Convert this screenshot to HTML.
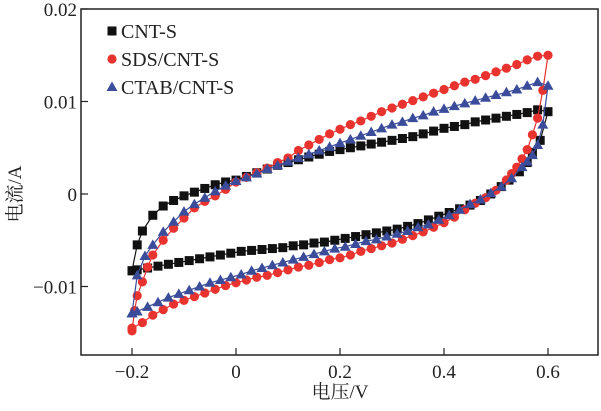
<!DOCTYPE html>
<html><head><meta charset="utf-8"><style>
body{margin:0;background:#fff}
svg{display:block}
</style></head><body>
<svg id="c" width="601" height="411"></svg>
<script>
const xTicks=[-0.2,0,0.2,0.4,0.6];
const xTickLabels=["\u22120.2","0","0.2","0.4","0.6"];
const yTicks=[0.02,0.01,0,-0.01];
const yTickLabels=["0.02","0.01","0","\u22120.01"];
const seriesNames=["CNT-S","SDS/CNT-S","CTAB/CNT-S"];
const cntV=[-0.2,-0.19,-0.18,-0.16,-0.14,-0.12,-0.1,-0.08,-0.06,-0.04,-0.02,0,0.02,0.04,0.06,0.08,0.1,0.12,0.14,0.16,0.18,0.2,0.22,0.24,0.26,0.28,0.3,0.32,0.34,0.36,0.38,0.4,0.42,0.44,0.46,0.48,0.5,0.52,0.54,0.56,0.58,0.6,
 0.585,0.57,0.56,0.545,0.525,0.51,0.49,0.47,0.45,0.43,0.41,0.39,0.37,0.35,0.33,0.31,0.29,0.27,0.25,0.23,0.21,0.19,0.17,0.15,0.13,0.11,0.09,0.07,0.05,0.03,0.01,-0.01,-0.03,-0.05,-0.07,-0.09,-0.11,-0.13,-0.15,-0.17,-0.19,-0.2];
const cntI=[-0.0083,-0.0055,-0.004,-0.0023,-0.0013,-0.0007,-0.0002,0.0002,0.0006,0.001,0.0013,0.0015,0.0019,0.0023,0.0027,0.0031,0.0034,0.0037,0.004,0.0043,0.0046,0.0048,0.005,0.0052,0.0054,0.0056,0.0058,0.006,0.0062,0.0065,0.0068,0.0071,0.0073,0.0075,0.0078,0.008,0.0082,0.0084,0.0086,0.0088,0.0091,0.0089,
 0.0058,0.0045,0.0034,0.0024,0.0015,0.0008,0,-0.0007,-0.0012,-0.0016,-0.002,-0.0024,-0.0028,-0.0032,-0.0035,-0.0038,-0.004,-0.0042,-0.0044,-0.0046,-0.0048,-0.005,-0.0052,-0.0053,-0.0055,-0.0056,-0.0058,-0.0059,-0.006,-0.0061,-0.0062,-0.0064,-0.0066,-0.0068,-0.007,-0.0072,-0.0074,-0.0076,-0.0078,-0.008,-0.0082,-0.0083];
const sdsV=[-0.2,-0.195,-0.19,-0.18,-0.17,-0.16,-0.14,-0.12,-0.1,-0.08,-0.06,-0.04,-0.02,0,0.02,0.04,0.06,0.08,0.1,0.12,0.14,0.16,0.18,0.2,0.22,0.24,0.26,0.28,0.3,0.32,0.34,0.36,0.38,0.4,0.42,0.44,0.46,0.48,0.5,0.52,0.54,0.56,0.58,0.6,
 0.59,0.58,0.57,0.56,0.55,0.54,0.53,0.52,0.5,0.48,0.46,0.44,0.42,0.4,0.38,0.36,0.34,0.32,0.3,0.28,0.26,0.24,0.22,0.2,0.18,0.16,0.14,0.12,0.1,0.08,0.06,0.04,0.02,0,-0.02,-0.04,-0.06,-0.08,-0.1,-0.12,-0.14,-0.16,-0.18,-0.2];
const sdsI=[-0.0148,-0.0126,-0.011,-0.0095,-0.0079,-0.0066,-0.005,-0.0037,-0.0026,-0.0015,-0.0008,-0.0002,0.0005,0.0013,0.0018,0.0023,0.0028,0.0034,0.0039,0.0047,0.0053,0.0059,0.0065,0.007,0.0075,0.0079,0.0084,0.0089,0.0093,0.0097,0.0101,0.0105,0.0109,0.0113,0.0117,0.0121,0.0124,0.0128,0.0132,0.0136,0.014,0.0145,0.0149,0.015,
 0.0112,0.0082,0.0064,0.0048,0.0038,0.0029,0.0022,0.0015,0.0004,-0.0004,-0.001,-0.0017,-0.0025,-0.0031,-0.0036,-0.0041,-0.0045,-0.0049,-0.0053,-0.0056,-0.0059,-0.0062,-0.0066,-0.0069,-0.0071,-0.0074,-0.0077,-0.0079,-0.0082,-0.0085,-0.0088,-0.009,-0.0093,-0.0096,-0.0099,-0.0103,-0.0107,-0.0111,-0.0115,-0.0119,-0.0125,-0.0131,-0.0139,-0.0145];
const ctabV=[-0.2,-0.19,-0.175,-0.16,-0.14,-0.12,-0.1,-0.08,-0.06,-0.04,-0.02,0,0.02,0.04,0.06,0.08,0.1,0.12,0.14,0.16,0.18,0.2,0.22,0.24,0.26,0.28,0.3,0.32,0.34,0.36,0.38,0.4,0.42,0.44,0.46,0.48,0.5,0.52,0.54,0.56,0.58,0.6,
 0.59,0.58,0.57,0.56,0.55,0.53,0.51,0.49,0.47,0.45,0.43,0.41,0.39,0.37,0.35,0.33,0.31,0.29,0.27,0.25,0.23,0.21,0.19,0.17,0.15,0.13,0.11,0.09,0.07,0.05,0.03,0.01,-0.01,-0.03,-0.05,-0.07,-0.09,-0.11,-0.13,-0.15,-0.17,-0.19,-0.2];
const ctabI=[-0.0129,-0.0088,-0.0067,-0.0055,-0.0041,-0.003,-0.0019,-0.0011,-0.0004,0.0003,0.0009,0.0014,0.0018,0.0022,0.0027,0.0031,0.0035,0.0039,0.0043,0.0047,0.0051,0.0055,0.0059,0.0063,0.0067,0.0071,0.0075,0.0078,0.0082,0.0085,0.0089,0.0092,0.0095,0.0098,0.0101,0.0104,0.0107,0.011,0.0113,0.0117,0.0121,0.0117,
 0.0075,0.0053,0.0042,0.0035,0.0029,0.0017,0.0008,0.0001,-0.0006,-0.0011,-0.0017,-0.0023,-0.0028,-0.0033,-0.0036,-0.004,-0.0043,-0.0046,-0.0049,-0.0051,-0.0054,-0.0057,-0.0059,-0.0062,-0.0065,-0.0068,-0.0071,-0.0074,-0.0077,-0.008,-0.0083,-0.0087,-0.009,-0.0093,-0.0096,-0.01,-0.0104,-0.0108,-0.0112,-0.0117,-0.0122,-0.0127,-0.0129];

const L=81,R=598,T=9,B=355;
const FONT='"Liberation Serif","Noto Serif CJK SC",serif';
const sx=v=>236+v*520;
const sy=i=>194-i*9250;
const NS="http://www.w3.org/2000/svg";
const svg=document.getElementById('c');
function mk(t,a,p){const e=document.createElementNS(NS,t);for(const k in a)e.setAttribute(k,a[k]);(p||svg).appendChild(e);return e;}

const frame=mk('rect',{x:L,y:T,width:R-L,height:B-T,fill:'none',stroke:'#222','stroke-width':1.5});



xTicks.forEach((v,k)=>{
  const x=sx(v);
  const tk=mk('line',{x1:x,x2:x,y1:B,y2:B-7,stroke:'#222','stroke-width':1.2});
  
  
  const t=mk('text',{x:x,y:B+23,'text-anchor':'middle','font-size':19,'font-family':FONT,fill:'#222'});
  t.textContent=xTickLabels[k];
  
  
});
yTicks.forEach((v,k)=>{
  const y=sy(v);
  const tk=mk('line',{x1:L,x2:L+7,y1:y,y2:y,stroke:'#222','stroke-width':1.2});
  
  
  const t=mk('text',{x:L-4,y:y+7,'text-anchor':'end','font-size':19,'font-family':FONT,fill:'#222'});
  t.textContent=yTickLabels[k];
  
  
});
const xt=mk('text',{x:340,y:398,'text-anchor':'middle','font-size':19,'font-family':FONT,fill:'#222'});
xt.textContent='电压/V';


const yt=mk('text',{x:0,y:0,'text-anchor':'middle','font-size':19,'font-family':FONT,fill:'#222',transform:'translate(21,194) rotate(-90)'});
yt.textContent='电流/A';



const colors=['#111','#e8332f','#3a4c9a'];
function marker(kind,x,y,col,name){
  let e;
  if(kind===0) e=mk('rect',{x:x-4.5,y:y-4.5,width:9,height:9,fill:col});
  else if(kind===1) e=mk('circle',{cx:x,cy:y,r:4.6,fill:col});
  else e=mk('polygon',{points:`${x},${y-5.5} ${x+5.5},${y+4} ${x-5.5},${y+4}`,fill:col});
  
  
}
const data=[[cntV,cntI],[sdsV,sdsI],[ctabV,ctabI]];
data.forEach(([V,I],s)=>{
  const pts=V.map((v,k)=>sx(v)+','+sy(I[k])).join(' ');
  const pl=mk('polyline',{points:pts,fill:'none',stroke:colors[s],'stroke-width':1.2});
  
  
  V.forEach((v,k)=>marker(s,sx(v),sy(I[k]),colors[s],'data-point'));
});
seriesNames.forEach((n,s)=>{
  const y=31+s*28;
  marker(s,112,y,colors[s],'legend-marker');
  const t=mk('text',{x:121,y:y+7,'font-size':20,'font-family':FONT,fill:'#222'});
  t.textContent=n;
  
  
});
</script>
</body></html>
